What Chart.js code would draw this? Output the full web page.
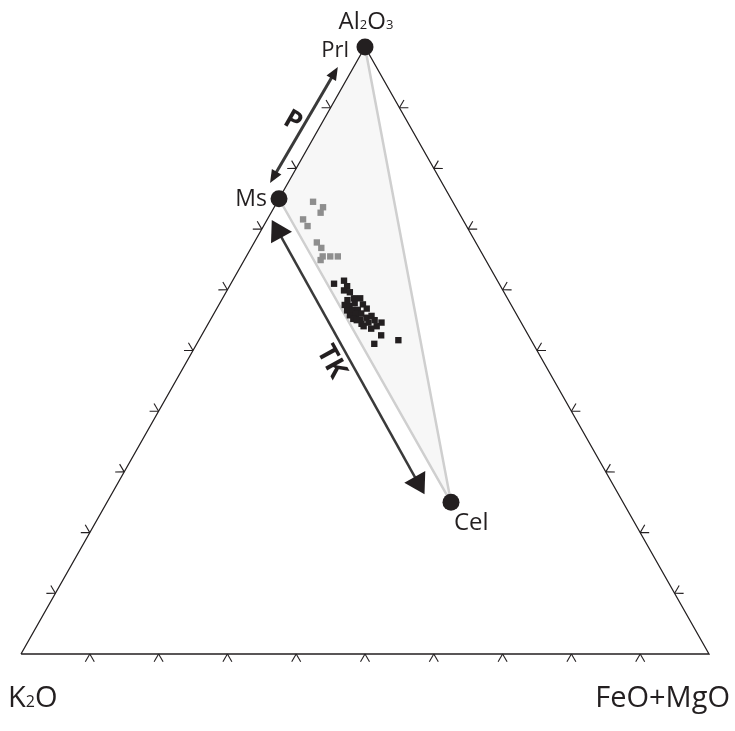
<!DOCTYPE html>
<html lang="en">
<head>
<meta charset="UTF-8">
<title>K2O - Al2O3 - FeO+MgO</title>
<script src="https://cdn.jsdelivr.net/npm/chart.js"></script>
<style>
  body { margin: 0; background: #fff; }
  #wrap { width: 735px; height: 731px; position: relative; }
</style>
</head>
<body>
<div id="wrap"><canvas id="ternary"></canvas></div>
<script>
// compositions in %, K2O is the remainder: Al2O3 and FeO+MgO
const endNames = ['Prl', 'Ms', 'Cel'];
const endAl = [100, 75, 25];
const endFm = [0, 0, 50];

// grey analyses
const greyAl = [74.5, 73.6, 72.7, 71.6, 70.5, 67.8, 66.9, 65.5, 64.9, 65.5, 65.5];
const greyFm = [5.2, 7.1, 7.2, 5.2, 6.4, 9.1, 10.2, 11.1, 11.1, 12.2, 13.3];

// black analyses
const blackAl = [61.0, 61.5, 60.6, 59.9, 59.6, 58.6, 58.6, 57.5, 57.3, 57.8, 57.6, 56.9, 56.6, 56.7,
                 56.7, 55.8, 56.0, 56.1, 55.2, 55.1, 55.4, 55.7, 55.0, 54.6, 54.6, 54.4, 54.0, 53.6,
                 52.5, 51.1, 51.7, 58.3, 55.0, 54.0];
const blackFm = [15.0, 16.2, 17.1, 17.0, 18.0, 19.1, 20.0, 18.3, 19.1, 19.6, 20.9, 21.8, 19.1, 19.8,
                 20.6, 19.9, 20.7, 21.4, 20.7, 21.7, 22.5, 23.1, 23.9, 25.1, 23.2, 22.3, 24.7, 24.1,
                 26.1, 25.8, 29.0, 18.3, 21.3, 22.8];

// triangle frame and tick steps
const frameAl = [0, 0, 100, 0];
const frameFm = [0, 100, 0, 0];
const tickSteps = [10, 20, 30, 40, 50, 60, 70, 80, 90];

// substitution arrows (tail, head)
const pArrowAl = [77.6, 96.7];
const pArrowFm = [-2.6, -2.3];
const tkArrowAl = [71.5, 26.3];
const tkArrowFm = [0.7, 45.5];

const INK = '#231f20';
const FONT = '"Open Sans", "Noto Sans", sans-serif';

function tern(al, fm) {
    return { x: (fm + al / 2) / 100, y: al / 100 };
}
function toPoints(al, fm) {
    return al.map((a, i) => tern(a, fm[i]));
}

// Ms -> Cel -> Prl tie lines, and the closed field
const tieOrder = [1, 2, 0];
const tieAl = tieOrder.map(i => endAl[i]);
const tieFm = tieOrder.map(i => endFm[i]);

// draws a formula with small digits on the baseline
function drawFormula(ctx, text, x, y, size, align) {
    const parts = text.split(/(\d)/).filter(s => s.length);
    const small = Math.round(size * 0.55);
    let total = 0;
    parts.forEach(p => {
        ctx.font = (/\d/.test(p) ? small : size) + 'px ' + FONT;
        total += ctx.measureText(p).width;
    });
    let cx = align === 'center' ? x - total / 2 : (align === 'right' ? x - total : x);
    ctx.textAlign = 'left';
    ctx.textBaseline = 'alphabetic';
    parts.forEach(p => {
        ctx.font = (/\d/.test(p) ? small : size) + 'px ' + FONT;
        ctx.fillText(p, cx, y);
        cx += ctx.measureText(p).width;
    });
}

function drawArrow(ctx, a, b, headLen, headHalf, width) {
    const dx = b[0] - a[0], dy = b[1] - a[1];
    const L = Math.hypot(dx, dy);
    const ux = dx / L, uy = dy / L;
    ctx.strokeStyle = '#3a3a3a';
    ctx.lineWidth = width;
    ctx.beginPath();
    ctx.moveTo(a[0] + ux * headLen * 0.8, a[1] + uy * headLen * 0.8);
    ctx.lineTo(b[0] - ux * headLen * 0.8, b[1] - uy * headLen * 0.8);
    ctx.stroke();
    ctx.fillStyle = INK;
    [[b, 1], [a, -1]].forEach(([tip, s]) => {
        const bx = tip[0] - s * ux * headLen, by = tip[1] - s * uy * headLen;
        ctx.beginPath();
        ctx.moveTo(tip[0], tip[1]);
        ctx.lineTo(bx - uy * headHalf, by + ux * headHalf);
        ctx.lineTo(bx + uy * headHalf, by - ux * headHalf);
        ctx.closePath();
        ctx.fill();
    });
}

const ternaryDecor = {
    id: 'ternaryDecor',
    afterDatasetsDraw(chart) {
        const ctx = chart.ctx;
        const xs = chart.scales.x, ys = chart.scales.y;
        const px = (al, fm) => {
            const p = tern(al, fm);
            return [xs.getPixelForValue(p.x), ys.getPixelForValue(p.y)];
        };
        ctx.save();

        // chevron ticks on the three sides
        const corners = [[0, 0], [0, 100], [100, 0]];
        const centre = px(100 / 3, 100 / 3);
        const edges = [[0, 1], [0, 2], [1, 2]];
        ctx.strokeStyle = INK;
        ctx.lineWidth = 1.1;
        edges.forEach(([i, j]) => {
            const p0 = corners[i], p1 = corners[j];
            tickSteps.forEach(s => {
                const t = s / 100;
                const q = px(p0[0] + (p1[0] - p0[0]) * t, p0[1] + (p1[1] - p0[1]) * t);
                const e0 = px(p0[0], p0[1]), e1 = px(p1[0], p1[1]);
                let nx = -(e1[1] - e0[1]), ny = e1[0] - e0[0];
                const nl = Math.hypot(nx, ny);
                nx /= nl; ny /= nl;
                if ((q[0] - centre[0]) * nx + (q[1] - centre[1]) * ny < 0) { nx = -nx; ny = -ny; }
                [Math.PI / 6, -Math.PI / 6].forEach(r => {
                    const rx = nx * Math.cos(r) - ny * Math.sin(r);
                    const ry = nx * Math.sin(r) + ny * Math.cos(r);
                    ctx.beginPath();
                    ctx.moveTo(q[0], q[1]);
                    ctx.lineTo(q[0] + rx * 9, q[1] + ry * 9);
                    ctx.stroke();
                });
            });
        });

        // arrows
        const pa = px(pArrowAl[0], pArrowFm[0]), pb = px(pArrowAl[1], pArrowFm[1]);
        drawArrow(ctx, pa, pb, 13, 5.5, 3);
        const ta = px(tkArrowAl[0], tkArrowFm[0]), tb = px(tkArrowAl[1], tkArrowFm[1]);
        drawArrow(ctx, ta, tb, 20, 12, 2.5);

        // arrow labels
        ctx.fillStyle = INK;
        ctx.textAlign = 'center';
        ctx.textBaseline = 'middle';
        ctx.font = 'bold 26px ' + FONT;
        let mx = (pa[0] + pb[0]) / 2, my = (pa[1] + pb[1]) / 2;
        let ang = Math.atan2(pb[1] - pa[1], pb[0] - pa[0]);
        ctx.save();
        ctx.translate(mx - 13 * Math.sin(-ang), my - 13 * Math.cos(ang) * 0.6);
        ctx.rotate(Math.PI / 6);
        ctx.fillText('P', 0, 0);
        ctx.restore();

        mx = (ta[0] + tb[0]) / 2; my = (ta[1] + tb[1]) / 2;
        ang = Math.atan2(tb[1] - ta[1], tb[0] - ta[0]);
        const ux = Math.cos(ang), uy = Math.sin(ang);
        ctx.font = 'bold 27px ' + FONT;
        ctx.save();
        ctx.translate(mx - uy * 17 - ux * 4, my + ux * 17 - uy * 4);
        ctx.rotate(ang);
        ctx.fillText('TK', 0, 0);
        ctx.restore();

        // end-member labels
        const prl = px(endAl[0], endFm[0]), ms = px(endAl[1], endFm[1]), cel = px(endAl[2], endFm[2]);
        ctx.fillStyle = INK;
        ctx.textBaseline = 'alphabetic';
        ctx.font = '22px ' + FONT;
        ctx.textAlign = 'right';
        ctx.fillText(endNames[0], prl[0] - 16, prl[1] + 10);
        ctx.font = '23px ' + FONT;
        ctx.fillText(endNames[1], ms[0] - 12, ms[1] + 7);
        ctx.textAlign = 'left';
        ctx.font = '24px ' + FONT;
        ctx.fillText(endNames[2], cel[0] + 3, cel[1] + 28);

        // apex labels
        drawFormula(ctx, 'Al2O3', prl[0] + 1, prl[1] - 18, 24, 'center');
        const k = px(0, 0), f = px(0, 100);
        drawFormula(ctx, 'K2O', k[0] - 13, k[1] + 53, 29, 'left');
        drawFormula(ctx, 'FeO+MgO', f[0] + 21, f[1] + 53, 29, 'right');

        ctx.restore();
    }
};

new Chart(document.getElementById('ternary'), {
    type: 'scatter',
    data: {
        datasets: [
            {
                data: toPoints(endAl, endFm),
                pointRadius: 8.5,
                pointBackgroundColor: INK,
                pointBorderWidth: 0,
                order: 0
            },
            {
                data: toPoints(blackAl, blackFm),
                pointStyle: 'rect',
                pointRadius: 4.5,
                pointBackgroundColor: INK,
                pointBorderWidth: 0,
                order: 1
            },
            {
                data: toPoints(greyAl, greyFm),
                pointStyle: 'rect',
                pointRadius: 4.5,
                pointBackgroundColor: '#8e8e8e',
                pointBorderWidth: 0,
                order: 2
            },
            {
                data: toPoints(frameAl, frameFm),
                showLine: true,
                borderColor: INK,
                borderWidth: 1.3,
                pointRadius: 0,
                order: 3
            },
            {
                data: toPoints(tieAl, tieFm),
                showLine: true,
                borderColor: '#cfcfcf',
                borderWidth: 2.5,
                pointRadius: 0,
                order: 4
            },
            {
                data: toPoints(tieAl.concat([tieAl[0]]), tieFm.concat([tieFm[0]])),
                showLine: true,
                borderWidth: 0,
                borderColor: 'rgba(0,0,0,0)',
                backgroundColor: '#f7f7f7',
                fill: 'shape',
                pointRadius: 0,
                order: 5
            }
        ]
    },
    options: {
        responsive: true,
        maintainAspectRatio: false,
        animation: false,
        events: [],
        clip: false,
        layout: { padding: { left: 21, right: 26, top: 47, bottom: 77 } },
        plugins: { legend: { display: false }, tooltip: { enabled: false } },
        scales: {
            x: { type: 'linear', min: 0, max: 1, display: false },
            y: { type: 'linear', min: 0, max: 1, display: false }
        }
    },
    plugins: [ternaryDecor]
});
</script>
</body>
</html>
